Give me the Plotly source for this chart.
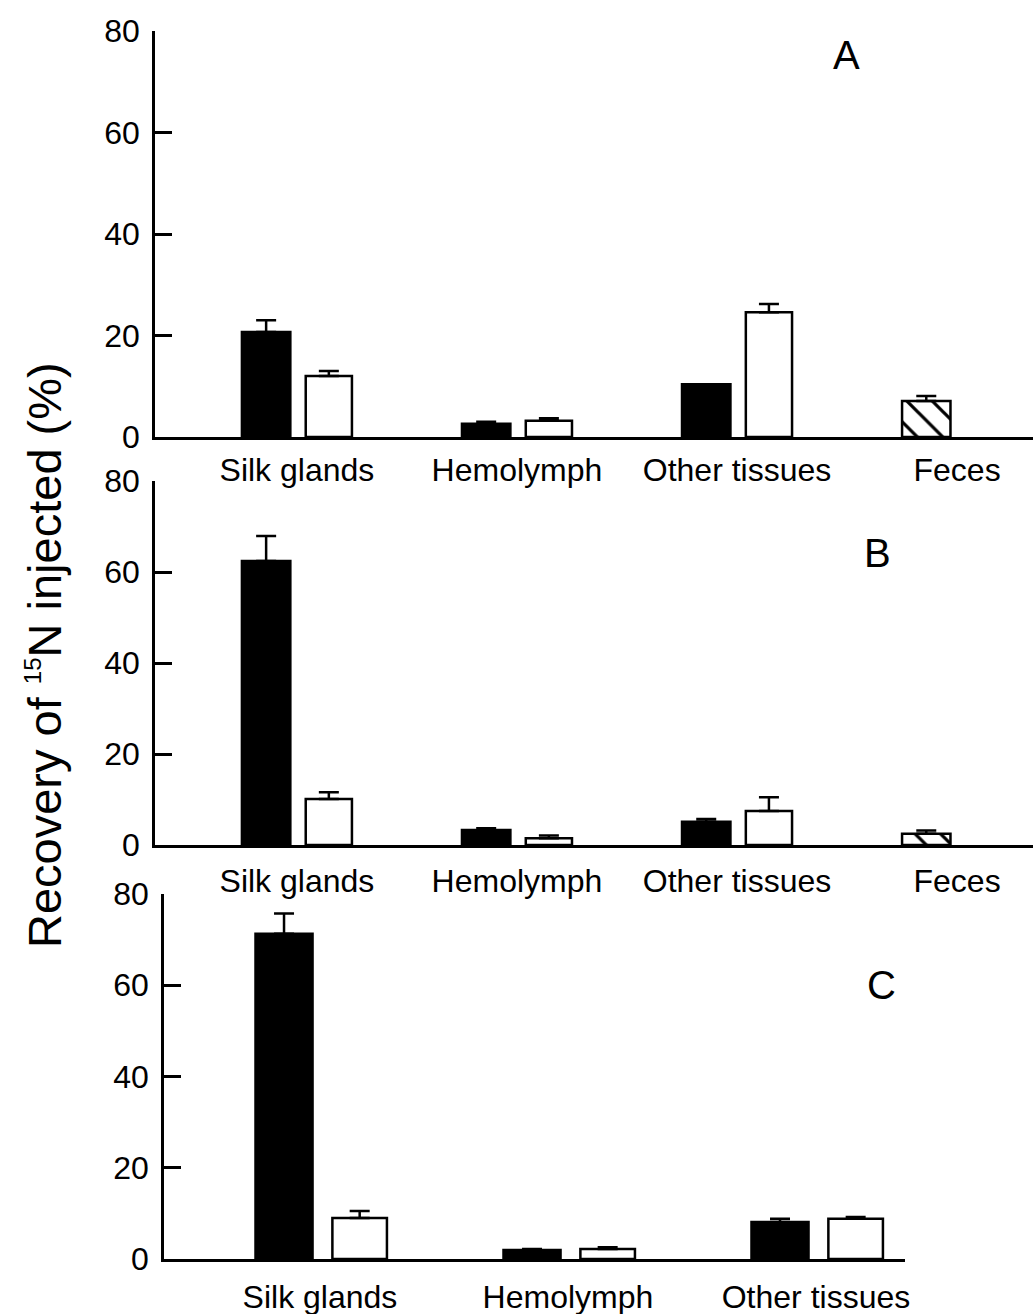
import plotly.graph_objects as go

# Tissue categories
cats_ab = ["Silk glands", "Hemolymph", "Other tissues", "Feces"]
cats_c = ["Silk glands", "Hemolymph", "Other tissues"]
tissues = ["Silk glands", "Hemolymph", "Other tissues"]

# Panel A: recovery (%) and upper error
a_black = [20.7, 2.6, 10.4]
a_black_err = [2.3, 0.4, 0.0]
a_white = [12.0, 3.2, 24.6]
a_white_err = [1.0, 0.5, 1.6]
a_feces = [7.1]
a_feces_err = [1.0]

# Panel B
b_black = [62.4, 3.3, 5.1]
b_black_err = [5.5, 0.4, 0.6]
b_white = [10.1, 1.5, 7.5]
b_white_err = [1.5, 0.6, 3.0]
b_feces = [2.5]
b_feces_err = [0.7]

# Panel C
c_black = [71.3, 2.0, 8.1]
c_black_err = [4.4, 0.2, 0.7]
c_white = [9.0, 2.2, 8.8]
c_white_err = [1.5, 0.4, 0.4]

y_ticks = [0, 20, 40, 60, 80]
panel_letters = ["A", "B", "C"]

FONT = "Arial, Liberation Sans, Helvetica, sans-serif"
LW = 2.5

fig = go.Figure()


def err(vals):
    return dict(type="data", symmetric=False, array=vals, arrayminus=[0] * len(vals),
                color="black", thickness=LW, width=10)


def add_panel(xa, ya, black, black_err, white, white_err, feces=None, feces_err=None,
              boff=-0.25, bw=0.22, woff=0.04, ww=0.21):
    fig.add_trace(go.Bar(x=tissues, y=black, xaxis=xa, yaxis=ya, offset=boff, width=bw,
                         marker=dict(color="black", line=dict(color="black", width=LW)),
                         error_y=err(black_err)))
    fig.add_trace(go.Bar(x=tissues, y=white, xaxis=xa, yaxis=ya, offset=woff, width=ww,
                         marker=dict(color="white", line=dict(color="black", width=LW)),
                         error_y=err(white_err)))
    if feces is not None:
        fig.add_trace(go.Bar(x=["Feces"], y=feces, xaxis=xa, yaxis=ya, offset=boff, width=bw,
                             marker=dict(color="white", line=dict(color="black", width=LW),
                                         pattern=dict(shape="\\", fgcolor="black", bgcolor="white",
                                                      fgopacity=1, size=18, solidity=0.18)),
                             error_y=err(feces_err)))


add_panel("x", "y", a_black, a_black_err, a_white, a_white_err, a_feces, a_feces_err)
add_panel("x2", "y2", b_black, b_black_err, b_white, b_white_err, b_feces, b_feces_err)
add_panel("x3", "y3", c_black, c_black_err, c_white, c_white_err,
          boff=-0.26, bw=0.23, woff=0.05, ww=0.22)

W, H = 1033, 1314


def ydom(bottom_px, top_px):
    return [1 - bottom_px / H, 1 - top_px / H]


xcommon = dict(type="category", showline=True, linecolor="black", linewidth=LW,
               ticks="", showgrid=False, zeroline=False, automargin=False,
               tickfont=dict(family=FONT, size=32, color="black"))
ycommon = dict(range=[0, 80], tickvals=y_ticks, ticks="inside", ticklen=17, tickwidth=LW,
               tickcolor="black", showline=True, linecolor="black", linewidth=LW,
               showgrid=False, zeroline=False, ticklabelstandoff=6, automargin=False,
               tickfont=dict(family=FONT, size=32, color="black"))
ystub = dict(range=[0, 80], tickvals=y_ticks[:-1], ticks="outside", ticklen=8, tickwidth=LW,
             tickcolor="black", showline=False, showgrid=False, zeroline=False,
             showticklabels=False, automargin=False)

fig.update_layout(
    width=W, height=H, margin=dict(l=0, r=0, t=0, b=0, autoexpand=False),
    plot_bgcolor="white", paper_bgcolor="white", showlegend=False, barmode="overlay",
    font=dict(family=FONT, color="black"),
    xaxis=dict(xcommon, domain=[155 / W, 1.0], anchor="y", categoryarray=cats_ab,
               categoryorder="array", range=[-0.645, 3.345], ticklabelstandoff=3),
    yaxis=dict(ycommon, domain=ydom(437, 31), anchor="x"),
    xaxis2=dict(xcommon, domain=[155 / W, 1.0], anchor="y2", categoryarray=cats_ab,
                categoryorder="array", range=[-0.645, 3.345], ticklabelstandoff=6),
    yaxis2=dict(ycommon, domain=ydom(845, 481), anchor="x2"),
    xaxis3=dict(xcommon, domain=[164 / W, 905 / W], anchor="y3", categoryarray=cats_c,
                categoryorder="array", range=[-0.629, 2.359], ticklabelstandoff=8),
    yaxis3=dict(ycommon, domain=ydom(1259, 894), anchor="x3"),
    yaxis4=dict(ystub, overlaying="y", anchor="x"),
    yaxis5=dict(ystub, overlaying="y2", anchor="x2"),
    yaxis6=dict(ystub, overlaying="y3", anchor="x3"),
)

# Panel letters
for letter, (px, py) in zip(panel_letters, [(846, 55), (877, 553), (881, 985)]):
    fig.add_annotation(text=letter, x=px / W, y=1 - py / H, xref="paper", yref="paper",
                       xanchor="center", yanchor="middle", showarrow=False,
                       font=dict(family=FONT, size=40, color="black"))

# Shared y-axis title
fig.add_annotation(text="Recovery of <sup><span style='font-size:24px'>15</span></sup>N injected (%)",
                   x=45 / W, y=1 - 655 / H, xref="paper", yref="paper",
                   xanchor="center", yanchor="middle", showarrow=False, textangle=-90,
                   font=dict(family=FONT, size=47, color="black"))

fig.write_html("out.html")
